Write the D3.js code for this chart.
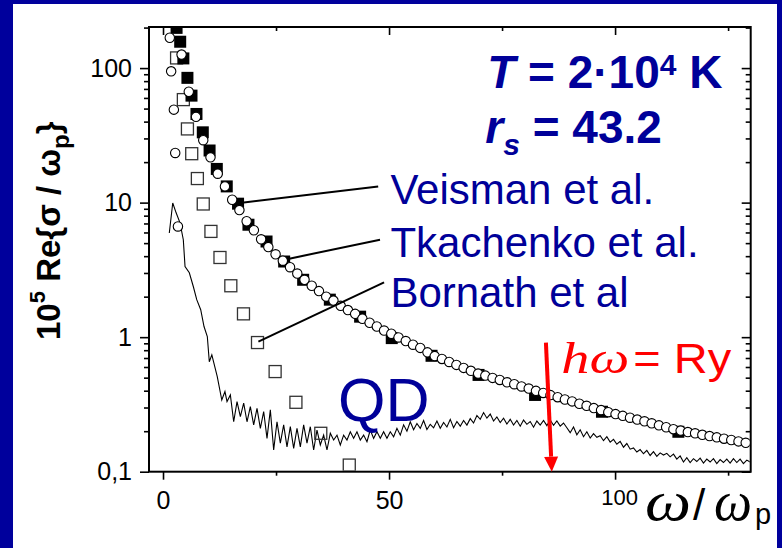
<!DOCTYPE html>
<html>
<head>
<meta charset="utf-8">
<script src="https://cdn.jsdelivr.net/npm/d3@7"></script>
<style>
  html, body { margin: 0; padding: 0; background: #00009c; }
  svg { display: block; }
</style>
</head>
<body>
<svg id="chart" width="782" height="548"></svg>
<script>
// ---- data ----
const xDomain = [-3.1, 130];
const yDomain = [0.1, 202];
const xMajorTicks = [0, 50, 100];
const xMinorTicks = [25, 75, 125];
const yMajorTicks = [0.1, 1, 10, 100];
const yTickLabels = ["0,1", "1", "10", "100"];

// filled squares
const veismanOmega = [3.0, 3.8, 4.5, 5.4, 6.3, 7.4, 8.8, 10.3, 11.9, 14.1, 16.6, 18.9, 22.9, 26.8, 31.0, 36.9, 43.6, 50.6, 59.4, 69.8, 82.3, 97.1, 114.0];
const veismanSigma = [199, 157, 118, 84.6, 62.4, 45.6, 33.3, 24.4, 17.8, 13.2, 9.82, 6.85, 5.14, 3.65, 2.67, 1.90, 1.42, 0.984, 0.727, 0.524, 0.372, 0.279, 0.198];

// open circles
const tkachenkoOmega = [4.1, 5.7, 7.3, 8.9, 10.5, 12.1, 13.7, 15.3, 16.9, 18.5, 20.1, 21.7, 23.3, 24.9, 26.5, 28.1, 29.7, 31.3, 32.9, 34.5,
  36.1, 37.7, 39.3, 40.9, 42.5, 44.1, 45.7, 47.3, 48.9, 50.5, 52.1, 53.7, 55.3, 56.9, 58.5, 60.1, 61.7, 63.3, 64.9, 66.5,
  68.1, 69.7, 71.3, 72.9, 74.5, 76.1, 77.7, 79.3, 80.9, 82.5, 84.1, 85.7, 87.3, 88.9, 90.5, 92.1, 93.7, 95.3, 96.9, 98.5,
  100.1, 101.7, 103.3, 104.9, 106.5, 108.1, 109.7, 111.3, 112.9, 114.5, 116.1, 117.7, 119.3, 120.9, 122.5, 124.1, 125.7, 127.3, 128.9];
const tkachenkoSigma = [126, 66.7, 43.4, 29.1, 21.7, 16.4, 13.2, 10.5, 8.80, 7.27, 6.23, 5.34, 4.67, 4.13, 3.70, 3.31, 2.97, 2.67, 2.41, 2.20,
  2.00, 1.87, 1.71, 1.59, 1.49, 1.37, 1.28, 1.20, 1.12, 1.06, 0.995, 0.936, 0.879, 0.832, 0.771, 0.723, 0.689, 0.654, 0.622, 0.591,
  0.562, 0.536, 0.518, 0.498, 0.481, 0.462, 0.447, 0.430, 0.415, 0.399, 0.385, 0.371, 0.358, 0.344, 0.333, 0.320, 0.309, 0.297, 0.287, 0.277,
  0.268, 0.260, 0.252, 0.244, 0.237, 0.229, 0.221, 0.214, 0.207, 0.202, 0.197, 0.193, 0.188, 0.184, 0.180, 0.176, 0.172, 0.168, 0.164];
// the few circles left of the curve at small omega
const tkachenkoLowOmega = [1.5, 1.8, 2.4, 2.7, 3.3];
const tkachenkoLowSigma = [168, 94.6, 49.1, 23.4, 6.65];

// open squares
const bornathOmega = [3.0, 4.5, 5.4, 6.35, 7.6, 8.9, 10.6, 12.6, 15.0, 17.8, 20.9, 24.8, 29.4, 34.9, 41.2];
const bornathSigma = [119, 58.3, 35.3, 23.1, 15.1, 9.77, 6.11, 3.91, 2.41, 1.49, 0.912, 0.555, 0.328, 0.193, 0.112];

// QD curve: first part point by point, then a sampled noisy tail
const qdHeadOmega = [1.39, 2.15, 2.9, 3.76, 4.49, 4.87, 5.82, 6.7, 7.46, 8.34, 9.07, 9.8, 10.24, 10.8, 12.0, 13.0, 13.7];
const qdHeadSigma = [5.94, 9.93, 8.4, 7.08, 5.30, 3.35, 3.01, 2.38, 1.90, 1.60, 1.20, 1.01, 0.657, 0.738, 0.509, 0.341, 0.394];
const qdTailStart = 14.16, qdTailStep = 0.737;
const qdTailSigma = [0.332, 0.372, 0.235, 0.332, 0.257, 0.323, 0.235, 0.305, 0.223, 0.296, 0.210, 0.280, 0.177, 0.288, 0.145, 0.235,
  0.163, 0.223, 0.153, 0.216, 0.149, 0.210, 0.153, 0.223, 0.163, 0.216, 0.145, 0.204, 0.158, 0.187, 0.145, 0.193, 0.172, 0.187,
  0.158, 0.187, 0.172, 0.198, 0.177, 0.198, 0.172, 0.187, 0.167, 0.204, 0.177, 0.198, 0.177, 0.198, 0.177, 0.198, 0.182, 0.210,
  0.187, 0.223,
  0.200, 0.235, 0.205, 0.228, 0.210, 0.240, 0.206, 0.225, 0.212,
  0.238, 0.210, 0.232, 0.215, 0.245, 0.212, 0.236, 0.218, 0.240,
  0.222, 0.248, 0.230, 0.262, 0.245, 0.275,
  0.250, 0.268, 0.238, 0.255, 0.232,
  0.250, 0.226, 0.245, 0.222, 0.240, 0.218, 0.242, 0.225, 0.236, 0.214, 0.238, 0.222, 0.240, 0.220,
  0.242, 0.221, 0.238, 0.218, 0.230,
  0.212, 0.195, 0.215, 0.188, 0.205,
  0.182, 0.198, 0.178, 0.192, 0.180,
  0.185, 0.170, 0.182, 0.166, 0.174,
  0.160, 0.168, 0.152, 0.162, 0.147,
  0.150, 0.140, 0.146, 0.136, 0.144,
  0.132, 0.141, 0.130, 0.138, 0.133,
  0.137, 0.129, 0.135, 0.124, 0.131,
  0.118, 0.127, 0.117, 0.125, 0.119,
  0.126, 0.116, 0.124, 0.118, 0.125,
  0.115, 0.123, 0.117, 0.124, 0.116,
  0.125, 0.117, 0.124, 0.115, 0.122, 0.118];

// annotations (data coordinates)
const labelNames = ["Veisman et al.", "Tkachenko et al.", "Bornath et al"];
const leaderFrom = [[17.0, 9.93], [27.4, 3.80], [21.1, 0.927]];
const leaderTo = [[47.6, 13.2], [48.0, 5.30], [48.9, 2.55]];
const labelAnchors = [[50.3, 9.8], [50.3, 3.96], [50.3, 1.68]];
const tempAnchor = [71.7, 71.6];
const rsAnchor = [71.3, 27.9];
const qdAnchor = [38.7, 0.238];
const ryAnchor = [88.1, 0.542];
const ryArrowFrom = [84.7, 0.91];
const ryArrowTo = [86.0, 0.1];

// ---- drawing ----
const W = 782, H = 548;
const navy = "#000099";
const sans = "'Liberation Sans', Arial, sans-serif";
const serif = "'Liberation Serif', 'Times New Roman', serif";
const plot = { left: 149, right: 750.7, top: 27, bottom: 471.7 };

const svg = d3.select("#chart");
svg.append("rect").attr("width", W).attr("height", H).attr("fill", "#00009c");
svg.append("rect").attr("x", 13).attr("y", 4).attr("width", 764).attr("height", 544).attr("fill", "#fff");

const x = d3.scaleLinear().domain(xDomain).range([plot.left, plot.right]);
const y = d3.scaleLog().domain(yDomain).range([plot.bottom, plot.top]);

// minor log ticks 2..9 of each decade
const yMinorTicks = [];
yMajorTicks.forEach(d => { for (let m = 2; m <= 9; m++) if (d * m <= yDomain[1]) yMinorTicks.push(d * m); });

function addAxis(axis, tx, ty) {
  const g = svg.append("g").attr("transform", `translate(${tx},${ty})`).call(axis);
  // the axis call sets its own font, so override afterwards
  g.attr("font-family", sans).attr("font-size", 25);
  g.select(".domain").remove();
  g.selectAll(".tick line").attr("stroke", "#000").attr("stroke-width", 1.6);
  g.selectAll(".tick text").attr("fill", "#000");
  return g;
}

addAxis(d3.axisLeft(y).tickValues(yMajorTicks).tickSize(9).tickPadding(8).tickFormat((d, i) => yTickLabels[i]), plot.left, 0);
addAxis(d3.axisLeft(y).tickValues(yMinorTicks).tickSize(5).tickFormat(""), plot.left, 0);
addAxis(d3.axisRight(y).tickValues(yMajorTicks).tickSize(-9).tickFormat(""), plot.right, 0);
addAxis(d3.axisRight(y).tickValues(yMinorTicks).tickSize(-5).tickFormat(""), plot.right, 0);
const xAx = addAxis(d3.axisBottom(x).tickValues(xMajorTicks).tickSize(8).tickPadding(12).tickFormat(d3.format("d")), 0, plot.bottom);
xAx.selectAll(".tick text").filter(d => d === 100).attr("font-size", 22).attr("dx", 4).attr("dy", "0.62em");
addAxis(d3.axisBottom(x).tickValues(xMinorTicks).tickSize(4).tickFormat(""), 0, plot.bottom);
addAxis(d3.axisTop(x).tickValues(xMajorTicks).tickSize(-8).tickFormat(""), 0, plot.top);
addAxis(d3.axisTop(x).tickValues(xMinorTicks).tickSize(-4).tickFormat(""), 0, plot.top);

svg.append("rect").attr("x", plot.left).attr("y", plot.top)
  .attr("width", plot.right - plot.left).attr("height", plot.bottom - plot.top)
  .attr("fill", "none").attr("stroke", "#000").attr("stroke-width", 2);

svg.append("clipPath").attr("id", "plotClip").append("rect")
  .attr("x", plot.left + 1).attr("y", plot.top + 1)
  .attr("width", plot.right - plot.left - 2).attr("height", plot.bottom - plot.top - 2);
const data = svg.append("g").attr("clip-path", "url(#plotClip)");

// QD line
const qdPoints = qdHeadOmega.map((w, i) => [w, qdHeadSigma[i]])
  .concat(qdTailSigma.map((v, i) => [qdTailStart + i * qdTailStep, v]));
data.append("path").datum(qdPoints)
  .attr("d", d3.line().x(d => x(d[0])).y(d => y(d[1])))
  .attr("fill", "none").attr("stroke", "#000").attr("stroke-width", 1.1);

// open squares
const sq = 12;
data.selectAll("rect.bornath").data(bornathOmega).join("rect").attr("class", "bornath")
  .attr("x", d => x(d) - sq / 2).attr("y", (d, i) => y(bornathSigma[i]) - sq / 2)
  .attr("width", sq).attr("height", sq)
  .attr("fill", "none").attr("stroke", "#333").attr("stroke-width", 1.3);

// filled squares
data.selectAll("rect.veisman").data(veismanOmega).join("rect").attr("class", "veisman")
  .attr("x", d => x(d) - sq / 2).attr("y", (d, i) => y(veismanSigma[i]) - sq / 2)
  .attr("width", sq).attr("height", sq).attr("fill", "#000");

// circles
const circ = tkachenkoOmega.map((w, i) => [w, tkachenkoSigma[i]])
  .concat(tkachenkoLowOmega.map((w, i) => [w, tkachenkoLowSigma[i]]));
data.selectAll("circle.tk").data(circ).join("circle").attr("class", "tk")
  .attr("cx", d => x(d[0])).attr("cy", d => y(d[1])).attr("r", 4.7)
  .attr("fill", "#fff").attr("stroke", "#000").attr("stroke-width", 1.1);

// leader lines and labels
labelNames.forEach((name, i) => {
  svg.append("line")
    .attr("x1", x(leaderFrom[i][0])).attr("y1", y(leaderFrom[i][1]))
    .attr("x2", x(leaderTo[i][0])).attr("y2", y(leaderTo[i][1]))
    .attr("stroke", "#000").attr("stroke-width", 2);
  svg.append("text").attr("x", x(labelAnchors[i][0])).attr("y", y(labelAnchors[i][1]))
    .attr("font-family", sans).attr("font-size", 42).attr("fill", navy).text(name);
});

// T and r_s
const t1 = svg.append("text").attr("x", x(tempAnchor[0])).attr("y", y(tempAnchor[1]))
  .attr("font-family", sans).attr("font-size", 46).attr("font-weight", "bold").attr("fill", navy);
t1.append("tspan").attr("font-style", "italic").text("T");
t1.append("tspan").text(" = 2\u00b710");
t1.append("tspan").attr("font-size", 30).attr("dy", -13).text("4");
t1.append("tspan").attr("dy", 13).text(" K");

const t2 = svg.append("text").attr("x", x(rsAnchor[0])).attr("y", y(rsAnchor[1]))
  .attr("font-family", sans).attr("font-size", 46).attr("font-weight", "bold").attr("fill", navy);
t2.append("tspan").attr("font-style", "italic").text("r");
t2.append("tspan").attr("font-style", "italic").attr("font-size", 30).attr("dy", 12).text("s");
t2.append("tspan").attr("dy", -12).text(" = 43.2");

// QD
svg.append("text").attr("x", x(qdAnchor[0])).attr("y", y(qdAnchor[1]))
  .attr("font-family", sans).attr("font-size", 61).attr("fill", navy).text("QD");

// h omega = Ry and arrow (glyphs are drawn a little wider than the fonts' natural width)
const red = "#ff0000";
const ryX = x(ryAnchor[0]), ryY = y(ryAnchor[1]);
svg.append("text").attr("x", ryX).attr("y", ryY).attr("fill", red)
  .attr("font-family", serif).attr("font-style", "italic").attr("font-size", 45)
  .attr("textLength", 68).attr("lengthAdjust", "spacingAndGlyphs").text("h\u03c9");
svg.append("text").attr("x", ryX + 72).attr("y", ryY).attr("fill", red)
  .attr("font-family", sans).attr("font-size", 42)
  .attr("textLength", 98).attr("lengthAdjust", "spacingAndGlyphs").text("= Ry");

const ax0 = x(ryArrowFrom[0]), ay0 = y(ryArrowFrom[1]);
const ax1 = x(ryArrowTo[0]), ay1 = y(ryArrowTo[1]);
const ang = Math.atan2(ay1 - ay0, ax1 - ax0);
const headL = 15, headW = 7;
const bx = ax1 - headL * Math.cos(ang), by = ay1 - headL * Math.sin(ang);
svg.append("line").attr("x1", ax0).attr("y1", ay0).attr("x2", bx).attr("y2", by)
  .attr("stroke", red).attr("stroke-width", 4);
svg.append("path")
  .attr("d", `M${ax1},${ay1}L${bx - headW * Math.sin(ang)},${by + headW * Math.cos(ang)}L${bx + headW * Math.sin(ang)},${by - headW * Math.cos(ang)}Z`)
  .attr("fill", red);

// axis titles
const yl = svg.append("text").attr("transform", "translate(60,340) rotate(-90)")
  .attr("font-family", sans).attr("font-size", 33).attr("font-weight", "bold").attr("fill", "#000");
yl.append("tspan").text("10");
yl.append("tspan").attr("font-size", 22).attr("dy", -15).text("5");
yl.append("tspan").attr("dy", 15).text(" Re{\u03c3 / \u03c9");
yl.append("tspan").attr("font-size", 24).attr("dy", 9).text("p");
yl.append("tspan").attr("dy", -9).text("}");

const xlY = 520;
svg.append("text").attr("x", 645).attr("y", xlY).attr("fill", "#000")
  .attr("font-family", serif).attr("font-style", "italic").attr("font-size", 56)
  .attr("textLength", 46).attr("lengthAdjust", "spacingAndGlyphs").text("\u03c9");
svg.append("text").attr("x", 693).attr("y", xlY).attr("fill", "#000")
  .attr("font-family", sans).attr("font-size", 44).text("/");
svg.append("text").attr("x", 714).attr("y", xlY).attr("fill", "#000")
  .attr("font-family", serif).attr("font-style", "italic").attr("font-size", 56)
  .attr("textLength", 38).attr("lengthAdjust", "spacingAndGlyphs").text("\u03c9");
svg.append("text").attr("x", 755).attr("y", xlY + 4).attr("fill", "#000")
  .attr("font-family", sans).attr("font-size", 29).text("p");
</script>
</body>
</html>
